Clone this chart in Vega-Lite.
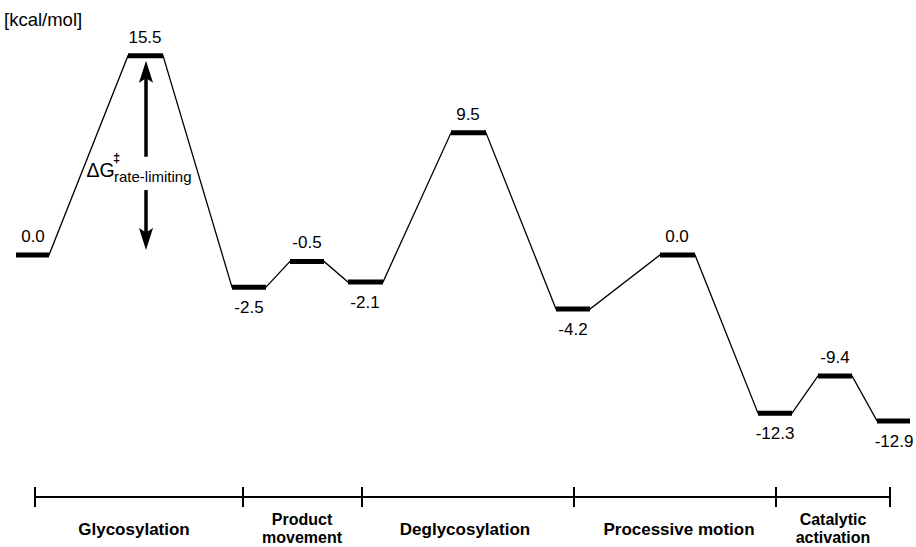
{
  "$schema": "https://vega.github.io/schema/vega-lite/v6.json",
  "width": 916,
  "height": 547,
  "autosize": {"type": "fit", "contains": "padding"},
  "padding": 0,
  "background": "white",
  "config": {"view": {"stroke": null}, "font": "Liberation Sans"},
  "datasets": {
    "levels": [
      {"label": "0.0", "energy": 0.0, "x0": 16, "x1": 49, "side": "above"},
      {"label": "15.5", "energy": 15.5, "x0": 128, "x1": 163, "side": "above"},
      {"label": "-2.5", "energy": -2.5, "x0": 232, "x1": 266, "side": "below"},
      {"label": "-0.5", "energy": -0.5, "x0": 290, "x1": 324, "side": "above"},
      {"label": "-2.1", "energy": -2.1, "x0": 348, "x1": 383, "side": "below"},
      {"label": "9.5", "energy": 9.5, "x0": 451, "x1": 486, "side": "above"},
      {"label": "-4.2", "energy": -4.2, "x0": 556, "x1": 590, "side": "below"},
      {"label": "0.0", "energy": 0.0, "x0": 660, "x1": 695, "side": "above"},
      {"label": "-12.3", "energy": -12.3, "x0": 758, "x1": 792, "side": "below"},
      {"label": "-9.4", "energy": -9.4, "x0": 818, "x1": 852, "side": "above"},
      {"label": "-12.9", "energy": -12.9, "x0": 877, "x1": 910, "side": "below"}
    ],
    "stages": [
      {"name": "Glycosylation", "start": 35, "end": 243, "center": 134},
      {"name": ["Product", "movement"], "start": 243, "end": 362, "center": 302},
      {"name": "Deglycosylation", "start": 362, "end": 574, "center": 465},
      {"name": "Processive motion", "start": 574, "end": 776, "center": 679},
      {"name": ["Catalytic", "activation"], "start": 776, "end": 890, "center": 833}
    ],
    "arrow": [
      {"part": "upper", "rc": 146, "from": 15.5, "to": 7.64},
      {"part": "lower", "rc": 146, "from": 5.05, "to": 0.0}
    ],
    "notes": [
      {"id": "unit", "text": "[kcal/mol]", "rc": 4, "energy": 17.8},
      {"id": "dg", "text": "ΔG", "rc": 86.5, "energy": 6.06},
      {"id": "dagger", "text": "‡", "rc": 116.5, "energy": 7.23},
      {"id": "sub", "text": "rate-limiting", "rc": 114, "energy": 5.68}
    ]
  },
  "layer": [
    {
      "data": {"name": "levels"},
      "transform": [{"fold": ["x0", "x1"], "as": ["end", "xpos"]}],
      "mark": {"type": "line", "stroke": "black", "strokeWidth": 1.3},
      "encoding": {
        "x": {"field": "xpos", "type": "quantitative", "scale": {"domain": [0, 916], "nice": false, "zero": false}, "axis": null},
        "y": {"field": "energy", "type": "quantitative", "scale": {"domain": [-22.703, 19.826], "nice": false, "zero": false}, "axis": null},
        "order": {"field": "xpos", "type": "quantitative"}
      }
    },
    {
      "data": {"name": "levels"},
      "mark": {"type": "rule", "stroke": "black", "strokeWidth": 5, "strokeCap": "butt"},
      "encoding": {
        "x": {"field": "x0", "type": "quantitative"},
        "x2": {"field": "x1"},
        "y": {"field": "energy", "type": "quantitative"}
      }
    },
    {
      "data": {"name": "levels"},
      "transform": [{"filter": "datum.side == 'above'"}],
      "mark": {"type": "text", "align": "center", "baseline": "alphabetic", "dx": 17, "dy": -13, "fontSize": 17, "color": "black"},
      "encoding": {
        "x": {"field": "x0", "type": "quantitative"},
        "y": {"field": "energy", "type": "quantitative"},
        "text": {"field": "label"}
      }
    },
    {
      "data": {"name": "levels"},
      "transform": [{"filter": "datum.side == 'below'"}],
      "mark": {"type": "text", "align": "center", "baseline": "alphabetic", "dx": 17, "dy": 26, "fontSize": 17, "color": "black"},
      "encoding": {
        "x": {"field": "x0", "type": "quantitative"},
        "y": {"field": "energy", "type": "quantitative"},
        "text": {"field": "label"}
      }
    },
    {
      "data": {"name": "arrow"},
      "transform": [{"filter": "datum.part == 'upper'"}],
      "mark": {"type": "rule", "stroke": "black", "strokeWidth": 3.5, "yOffset": 22},
      "encoding": {
        "x": {"field": "rc", "type": "quantitative"},
        "y": {"field": "from", "type": "quantitative"},
        "y2": {"field": "to"}
      }
    },
    {
      "data": {"name": "arrow"},
      "transform": [{"filter": "datum.part == 'lower'"}],
      "mark": {"type": "rule", "stroke": "black", "strokeWidth": 3.5, "y2Offset": -20},
      "encoding": {
        "x": {"field": "rc", "type": "quantitative"},
        "y": {"field": "from", "type": "quantitative"},
        "y2": {"field": "to"}
      }
    },
    {
      "data": {"name": "arrow"},
      "transform": [{"filter": "datum.part == 'upper'"}],
      "mark": {"type": "point", "shape": "M0,-1L0.64,1L0,0.6L-0.64,1Z", "size": 484, "filled": true, "color": "black", "opacity": 1, "strokeWidth": 0, "yOffset": 16},
      "encoding": {
        "x": {"field": "rc", "type": "quantitative"},
        "y": {"field": "from", "type": "quantitative"}
      }
    },
    {
      "data": {"name": "arrow"},
      "transform": [{"filter": "datum.part == 'lower'"}],
      "mark": {"type": "point", "shape": "M0,1L0.64,-1L0,-0.6L-0.64,-1Z", "size": 484, "filled": true, "color": "black", "opacity": 1, "strokeWidth": 0, "yOffset": -16},
      "encoding": {
        "x": {"field": "rc", "type": "quantitative"},
        "y": {"field": "to", "type": "quantitative"}
      }
    },
    {
      "data": {"name": "notes"},
      "transform": [{"filter": "datum.id == 'unit'"}],
      "mark": {"type": "text", "align": "left", "baseline": "alphabetic", "fontSize": 18.5, "color": "black"},
      "encoding": {
        "x": {"field": "rc", "type": "quantitative"},
        "y": {"field": "energy", "type": "quantitative"},
        "text": {"field": "text"}
      }
    },
    {
      "data": {"name": "notes"},
      "transform": [{"filter": "datum.id == 'dg'"}],
      "mark": {"type": "text", "align": "left", "baseline": "alphabetic", "fontSize": 19.5, "color": "black"},
      "encoding": {
        "x": {"field": "rc", "type": "quantitative"},
        "y": {"field": "energy", "type": "quantitative"},
        "text": {"field": "text"}
      }
    },
    {
      "data": {"name": "notes"},
      "transform": [{"filter": "datum.id == 'dagger'"}],
      "mark": {"type": "text", "align": "center", "baseline": "alphabetic", "fontSize": 13, "fontWeight": "bold", "color": "black"},
      "encoding": {
        "x": {"field": "rc", "type": "quantitative"},
        "y": {"field": "energy", "type": "quantitative"},
        "text": {"field": "text"}
      }
    },
    {
      "data": {"name": "notes"},
      "transform": [{"filter": "datum.id == 'sub'"}],
      "mark": {"type": "text", "align": "left", "baseline": "alphabetic", "fontSize": 15, "color": "black"},
      "encoding": {
        "x": {"field": "rc", "type": "quantitative"},
        "y": {"field": "energy", "type": "quantitative"},
        "text": {"field": "text"}
      }
    },
    {
      "data": {"name": "stages"},
      "mark": {"type": "rule", "stroke": "black", "strokeWidth": 2},
      "encoding": {
        "x": {"field": "start", "type": "quantitative"},
        "x2": {"field": "end"},
        "y": {"datum": -18.815, "type": "quantitative"}
      }
    },
    {
      "data": {"name": "stages"},
      "transform": [{"fold": ["start", "end"], "as": ["edge", "xpos"]}],
      "mark": {"type": "point", "shape": "M0,-1L0,1", "size": 400, "filled": false, "stroke": "black", "strokeWidth": 2, "opacity": 1},
      "encoding": {
        "x": {"field": "xpos", "type": "quantitative"},
        "y": {"datum": -18.815, "type": "quantitative"}
      }
    },
    {
      "data": {"name": "stages"},
      "transform": [{"filter": "!isArray(datum.name)"}],
      "mark": {"type": "text", "align": "center", "baseline": "alphabetic", "dy": 38, "fontSize": 17, "fontWeight": "bold", "color": "black"},
      "encoding": {
        "x": {"field": "center", "type": "quantitative"},
        "y": {"datum": -18.815, "type": "quantitative"},
        "text": {"field": "name"}
      }
    },
    {
      "data": {"name": "stages"},
      "transform": [{"filter": "isArray(datum.name)"}],
      "mark": {"type": "text", "align": "center", "baseline": "alphabetic", "dy": 28, "lineHeight": 18, "fontSize": 16, "fontWeight": "bold", "color": "black"},
      "encoding": {
        "x": {"field": "center", "type": "quantitative"},
        "y": {"datum": -18.815, "type": "quantitative"},
        "text": {"field": "name"}
      }
    }
  ]
}
